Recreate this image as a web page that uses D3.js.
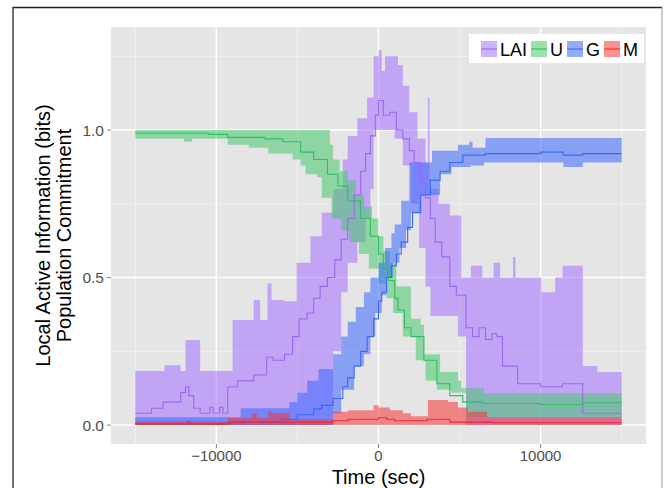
<!DOCTYPE html>
<html>
<head>
<meta charset="utf-8">
<script src="https://cdn.jsdelivr.net/npm/d3@7"></script>
<style>
  body { margin: 0; background: #fff; }
  svg { display: block; font-family: "Liberation Sans", Arial, sans-serif; }
</style>
</head>
<body>
<svg id="chart" width="667" height="488"></svg>
<script>
// series names and colours
const seriesNames = ['LAI', 'U', 'G', 'M'];
const lineColors = ['#9A68F4', '#2FBE62', '#3A68F2', '#F22A2A'];
const fillColors = ['#A46FFF', '#45C86E', '#3A68FF', '#F83535'];

// step data: [time (sec), value]
const laiMean = [[-15000,0.04],[-14000,0.057],[-13300,0.078],[-12200,0.11],[-11900,0.13],[-11700,0.1],[-11400,0.057],[-11000,0.04],[-10400,0.06],[-10200,0.04],[-9800,0.06],[-9600,0.04],[-9300,0.13],[-8700,0.15],[-7700,0.17],[-6900,0.23],[-6500,0.22],[-5800,0.24],[-5300,0.3],[-4900,0.36],[-4400,0.38],[-4000,0.43],[-3600,0.47],[-3150,0.5],[-2700,0.56],[-2300,0.63],[-1900,0.7],[-1500,0.78],[-1100,0.86],[-800,0.92],[-500,0.98],[-200,1.05],[0,1.1],[300,1.05],[700,1.06],[1100,1.0],[1500,0.97],[1900,0.93],[2200,0.89],[2600,0.82],[2900,0.77],[3200,0.7],[3500,0.62],[3900,0.57],[4400,0.47],[4800,0.44],[5400,0.33],[5800,0.3],[6200,0.33],[6600,0.29],[7000,0.31],[7300,0.3],[7650,0.2],[8580,0.14],[10000,0.13],[11350,0.14],[12600,0.04],[15000,0.04]];
const laiLower = [[-15000,0],[-2800,0.25],[-2300,0.45],[-1900,0.55],[-1300,0.62],[-800,0.7],[-500,0.8],[-300,1.0],[1000,0.97],[1500,0.88],[2000,0.75],[2500,0.6],[2900,0.47],[3200,0.37],[4900,0.3],[5400,0],[15000,0]];
const laiUpper = [[-15000,0.183],[-13200,0.203],[-12200,0.183],[-11900,0.288],[-11000,0.183],[-9000,0.356],[-7700,0.424],[-7300,0.356],[-6850,0.48],[-6600,0.424],[-5850,0.42],[-5050,0.55],[-4200,0.64],[-3500,0.72],[-2800,0.8],[-2200,0.9],[-1900,0.98],[-1300,1.04],[-700,1.11],[-300,1.25],[0,1.27],[200,1.2],[400,1.25],[1200,1.22],[1500,1.15],[1900,1.06],[2400,0.97],[2900,0.89],[3050,1.11],[3150,0.8],[3700,0.75],[4400,0.71],[5100,0.5],[5700,0.54],[6400,0.5],[7100,0.55],[7500,0.5],[8300,0.57],[8450,0.5],[10050,0.45],[10900,0.5],[11350,0.54],[12600,0.2],[13500,0.18],[15000,0.18]];

const uMean = [[-15000,0.99],[-10500,0.985],[-9300,0.975],[-7000,0.97],[-5900,0.96],[-4800,0.925],[-4000,0.9],[-3150,0.85],[-2500,0.81],[-1900,0.76],[-1100,0.7],[-500,0.64],[0,0.58],[300,0.53],[600,0.49],[1000,0.43],[1200,0.39],[1600,0.33],[2000,0.3],[2800,0.22],[3600,0.14],[4400,0.1],[5200,0.078],[6400,0.073],[10000,0.07],[12600,0.076],[15000,0.076]];
const uLower = [[-15000,0.97],[-12000,0.96],[-11500,0.97],[-9300,0.95],[-8000,0.94],[-6800,0.92],[-5300,0.9],[-4800,0.88],[-4500,0.85],[-3800,0.84],[-3500,0.77],[-2900,0.7],[-2300,0.66],[-1800,0.62],[-1200,0.58],[-600,0.53],[0,0.48],[500,0.43],[900,0.38],[1500,0.3],[2300,0.22],[2900,0.15],[3600,0.12],[4500,0.11],[5400,0.027],[15000,0.027]];
const uUpper = [[-15000,1.0],[-3000,0.95],[-2800,0.9],[-2400,0.86],[-1900,0.83],[-1400,0.78],[-900,0.74],[-400,0.7],[0,0.64],[300,0.59],[700,0.55],[1100,0.47],[2000,0.36],[2600,0.34],[2800,0.24],[3800,0.18],[4900,0.15],[5100,0.125],[6500,0.108],[15000,0.108]];

const gMean = [[-15000,0.005],[-9000,0.01],[-6000,0.02],[-5000,0.035],[-4000,0.055],[-3500,0.067],[-2800,0.09],[-2200,0.13],[-1900,0.16],[-1500,0.2],[-1100,0.25],[-700,0.3],[-300,0.36],[0,0.42],[200,0.45],[500,0.5],[800,0.54],[1100,0.58],[1400,0.62],[1800,0.67],[2100,0.72],[2600,0.78],[3200,0.83],[3800,0.86],[4400,0.89],[5200,0.915],[6600,0.92],[10000,0.925],[11400,0.915],[12600,0.92],[15000,0.92]];
const gLower = [[-15000,0],[-2800,0.04],[-2300,0.12],[-1500,0.2],[-900,0.24],[-500,0.3],[-200,0.38],[200,0.44],[500,0.5],[900,0.55],[1300,0.6],[1700,0.66],[2000,0.72],[2600,0.78],[3800,0.85],[4500,0.875],[5700,0.88],[6500,0.89],[11400,0.875],[12600,0.89],[15000,0.89]];
const gUpper = [[-15000,0.027],[-8500,0.057],[-5500,0.078],[-5000,0.11],[-4400,0.15],[-3700,0.19],[-2800,0.24],[-2300,0.3],[-1900,0.35],[-1400,0.4],[-900,0.45],[-500,0.5],[0,0.55],[400,0.6],[800,0.65],[1000,0.68],[1400,0.76],[1900,0.89],[3300,0.93],[4900,0.95],[5600,0.96],[5800,0.94],[6600,0.973],[15000,0.973]];

const mMean = [[-15000,0.003],[-11800,0.012],[-11600,0.003],[-9300,0.01],[-2800,0.015],[-1900,0.02],[0,0.025],[500,0.02],[1000,0.015],[3000,0.02],[4400,0.01],[7000,0.008],[15000,0.008]];
const mLower = [[-15000,0],[15000,0]];
const mUpper = [[-15000,0.012],[-9300,0.024],[-7800,0.04],[-7500,0.024],[-6800,0.047],[-6600,0.04],[-5500,0.02],[-2800,0.045],[-1900,0.05],[-300,0.067],[0,0.06],[700,0.05],[1500,0.04],[2000,0.03],[3050,0.085],[4300,0.078],[4900,0.06],[5500,0.045],[6700,0.027],[15000,0.027]];

const means = [laiMean, uMean, gMean, mMean];
const lowers = [laiLower, uLower, gLower, mLower];
const uppers = [laiUpper, uUpper, gUpper, mUpper];

const xTicks = [-10000, 0, 10000];
const xMinor = [-15000, -5000, 5000, 15000];
const yTicks = [0, 0.5, 1.0];
const yMinor = [0.25, 0.75, 1.25];

const svg = d3.select('#chart');

// outer frame of the figure
svg.append('line').attr('x1', 12.5).attr('x2', 662).attr('y1', 7.5).attr('y2', 7.5)
  .attr('stroke', '#222').attr('stroke-width', 1.5);
svg.append('line').attr('x1', 13).attr('x2', 13).attr('y1', 7).attr('y2', 488)
  .attr('stroke', '#444').attr('stroke-width', 1.5);
svg.append('line').attr('x1', 662).attr('x2', 662).attr('y1', 7).attr('y2', 488)
  .attr('stroke', '#999').attr('stroke-width', 1);

const panel = { left: 111, right: 646, top: 27, bottom: 444 };

const x = d3.scaleLinear().domain([-16500, 16500]).range([panel.left, panel.right]);
const y = d3.scaleLinear().domain([-0.064, 1.349]).range([panel.bottom, panel.top]);

svg.append('rect')
  .attr('x', panel.left).attr('y', panel.top)
  .attr('width', panel.right - panel.left).attr('height', panel.bottom - panel.top)
  .attr('fill', '#E5E5E5');

// grid
const grid = svg.append('g');
grid.selectAll('.xminor').data(xMinor).enter().append('line')
  .attr('x1', d => x(d)).attr('x2', d => x(d))
  .attr('y1', panel.top).attr('y2', panel.bottom)
  .attr('stroke', '#F2F2F2').attr('stroke-width', 0.8);
grid.selectAll('.yminor').data(yMinor).enter().append('line')
  .attr('x1', panel.left).attr('x2', panel.right)
  .attr('y1', d => y(d)).attr('y2', d => y(d))
  .attr('stroke', '#F2F2F2').attr('stroke-width', 0.8);
grid.selectAll('.xmajor').data(xTicks).enter().append('line')
  .attr('x1', d => x(d)).attr('x2', d => x(d))
  .attr('y1', panel.top).attr('y2', panel.bottom)
  .attr('stroke', '#fff').attr('stroke-width', 1.5);
grid.selectAll('.ymajor').data(yTicks).enter().append('line')
  .attr('x1', panel.left).attr('x2', panel.right)
  .attr('y1', d => y(d)).attr('y2', d => y(d))
  .attr('stroke', '#fff').attr('stroke-width', 1.5);

// value of a step series at time t
function stepAt(pts, t) {
  let v = pts[0][1];
  for (const p of pts) { if (p[0] <= t) v = p[1]; else break; }
  return v;
}

// ribbons first, then lines
const area = d3.area()
  .x(d => x(d.t)).y0(d => y(d.lo)).y1(d => y(d.hi))
  .curve(d3.curveStepAfter);

seriesNames.forEach((name, i) => {
  const times = Array.from(new Set(lowers[i].map(d => d[0]).concat(uppers[i].map(d => d[0])))).sort((a, b) => a - b);
  const rows = times.map(t => ({ t: t, lo: stepAt(lowers[i], t), hi: stepAt(uppers[i], t) }));
  svg.append('path')
    .datum(rows)
    .attr('d', area)
    .attr('fill', fillColors[i])
    .attr('fill-opacity', 0.55);
});

const line = d3.line().x(d => x(d[0])).y(d => y(d[1])).curve(d3.curveStepAfter);

seriesNames.forEach((name, i) => {
  svg.append('path')
    .datum(means[i])
    .attr('d', line)
    .attr('fill', 'none')
    .attr('stroke', lineColors[i])
    .attr('stroke-width', 1.1);
});

// axes
const tickColor = '#7F7F7F';
const labelColor = '#4D4D4D';

svg.selectAll('.ytick').data(yTicks).enter().append('line')
  .attr('x1', panel.left - 4).attr('x2', panel.left)
  .attr('y1', d => y(d)).attr('y2', d => y(d))
  .attr('stroke', tickColor);
svg.selectAll('.ylab').data(yTicks).enter().append('text')
  .attr('x', panel.left - 7).attr('y', d => y(d)).attr('dy', '0.36em')
  .attr('text-anchor', 'end').attr('font-size', 15.5).attr('fill', labelColor)
  .text(d => d3.format('.1f')(d));

svg.selectAll('.xtick').data(xTicks).enter().append('line')
  .attr('x1', d => x(d)).attr('x2', d => x(d))
  .attr('y1', panel.bottom).attr('y2', panel.bottom + 4)
  .attr('stroke', tickColor);
svg.selectAll('.xlab').data(xTicks).enter().append('text')
  .attr('x', d => x(d)).attr('y', 461)
  .attr('text-anchor', 'middle').attr('font-size', 15).attr('fill', labelColor)
  .text(d => d < 0 ? '\u2212' + Math.abs(d) : String(d));

svg.append('text')
  .attr('x', (panel.left + panel.right) / 2).attr('y', 484)
  .attr('text-anchor', 'middle').attr('font-size', 20).attr('fill', '#000')
  .text('Time (sec)');

const ytitle = svg.append('text')
  .attr('transform', 'translate(0,' + ((panel.top + panel.bottom) / 2) + ') rotate(-90)')
  .attr('text-anchor', 'middle').attr('font-size', 20).attr('fill', '#000');
ytitle.append('tspan').attr('x', 0).attr('y', 50).text('Local Active Information (bits)');
ytitle.append('tspan').attr('x', 0).attr('y', 71).text('Population Commitment');

// legend
const legend = svg.append('g');
legend.append('rect')
  .attr('x', 469).attr('y', 34).attr('width', 175).attr('height', 29)
  .attr('fill', '#fff');
let lx = 481;
seriesNames.forEach((name, i) => {
  legend.append('rect')
    .attr('x', lx).attr('y', 41).attr('width', 16).attr('height', 16)
    .attr('fill', fillColors[i]).attr('fill-opacity', 0.55);
  legend.append('line')
    .attr('x1', lx).attr('x2', lx + 16).attr('y1', 49).attr('y2', 49)
    .attr('stroke', lineColors[i]).attr('stroke-width', 1.1);
  const t = legend.append('text')
    .attr('x', lx + 19).attr('y', 56)
    .attr('font-size', 18).attr('fill', '#000')
    .text(name);
  lx = lx + 19 + t.node().getComputedTextLength() + 4;
});
</script>
</body>
</html>
